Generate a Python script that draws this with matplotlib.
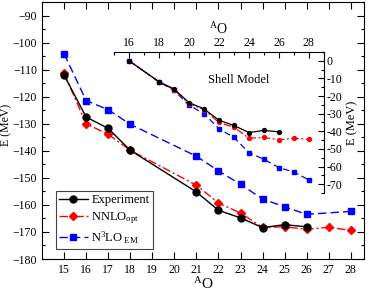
import matplotlib
matplotlib.use("Agg")
import matplotlib.pyplot as plt
from matplotlib.ticker import MultipleLocator, FuncFormatter

plt.rcParams['font.family'] = ['Liberation Serif', 'DejaVu Serif']
plt.rcParams['mathtext.fontset'] = 'custom'
plt.rcParams['mathtext.rm'] = 'Liberation Serif'
plt.rcParams['mathtext.it'] = 'Liberation Serif:italic'
plt.rcParams['axes.unicode_minus'] = True

# ---- main panel data ----
exp_A = [15, 16, 17, 18, 21, 22, 23, 24, 25, 26]
exp_E = [-112.0, -127.5, -131.7, -139.8, -155.2, -162.0, -164.8, -168.4, -167.3, -168.1]

nnlo_A = [15, 16, 17, 18, 21, 22, 23, 24, 25, 26, 27, 28]
nnlo_E = [-111.3, -130.0, -133.9, -139.8, -152.7, -159.3, -163.0, -168.3, -168.1, -169.0, -168.3, -169.4]

n3lo_A = [15, 16, 17, 18, 21, 22, 23, 24, 25, 26, 28]
n3lo_E = [-104.1, -121.4, -124.8, -130.2, -142.0, -147.4, -152.4, -157.8, -160.7, -163.5, -162.4]

# ---- inset (shell model) data ----
sm_exp_A = [16, 18, 19, 20, 21, 22, 23, 24, 25, 26]
sm_exp_E = [0.0, -11.9, -16.0, -23.7, -27.3, -33.7, -36.7, -40.7, -39.5, -40.3]

sm_nnlo_A = [16, 18, 19, 20, 21, 22, 23, 24, 25, 26, 27, 28]
sm_nnlo_E = [0.0, -12.0, -16.3, -24.3, -27.7, -35.0, -37.7, -43.9, -43.5, -44.8, -43.9, -44.6]

sm_n3lo_A = [16, 18, 19, 20, 21, 22, 23, 24, 25, 26, 27, 28]
sm_n3lo_E = [0.0, -12.0, -16.8, -25.2, -30.0, -38.5, -43.5, -52.1, -55.9, -60.6, -63.1, -67.6]

fig = plt.figure(figsize=(3.74, 2.92), dpi=100)
ax = fig.add_axes([0.1123, 0.113, 0.861, 0.880])

ax.plot(exp_A, exp_E, color='black', ls='-', lw=1.0, marker='o', ms=5, label='Experiment', zorder=5)
ax.plot(nnlo_A, nnlo_E, color='red', ls=(0, (6, 2, 1.5, 2)), lw=1.0, marker='D', ms=4.2, label=r'NNLO$_{\rm opt}$', zorder=4)
ax.plot(n3lo_A, n3lo_E, color='blue', ls=(0, (6, 3)), lw=1.0, marker='s', ms=4.5, label=r'N$^{3}$LO$_{\rm\ EM}$', zorder=3)

ax.set_xlim(14, 28.6)
ax.set_ylim(-180, -85)
ax.xaxis.set_major_locator(MultipleLocator(1))
ax.yaxis.set_major_locator(MultipleLocator(10))
ax.yaxis.set_minor_locator(MultipleLocator(5))
ax.tick_params(which='both', direction='in', top=True, right=True, labelsize=8.5)
ax.tick_params(which='major', length=5, width=0.8)
ax.tick_params(which='minor', length=2.5, width=0.8)
ax.set_xticks(list(range(15, 29)))
ax.set_xlabel(r'$^{\rm A}$O', fontsize=11, labelpad=0)
fig.text(6 / 374, 1 - 125 / 292, 'E (MeV)', rotation=90, ha='center', va='center', fontsize=8.5)

leg = ax.legend(loc='lower left', bbox_to_anchor=(0.043, 0.039), borderaxespad=0,
                fontsize=9, handlelength=2.3, handletextpad=0.3, labelspacing=0.3,
                borderpad=0.25, fancybox=False, framealpha=1)
leg.get_frame().set_edgecolor('#444444')
leg.get_frame().set_linewidth(0.8)

# ---- inset ----
axi = fig.add_axes([0.305, 0.339, 0.561, 0.483])
axi.set_facecolor('none')
axi.plot(sm_exp_A, sm_exp_E, color='black', ls='-', lw=0.9, marker='o', ms=2.8, zorder=5)
axi.plot(sm_nnlo_A, sm_nnlo_E, color='red', ls=(0, (6, 2, 1.5, 2)), lw=0.9, marker='o', ms=2.8, zorder=4)
axi.plot(sm_n3lo_A, sm_n3lo_E, color='blue', ls=(0, (5, 3)), lw=0.9, marker='s', ms=2.5, zorder=3)
axi.set_xlim(15, 29)
axi.set_ylim(-75, 5)
axi.spines['left'].set_visible(False)
axi.spines['bottom'].set_visible(False)
axi.xaxis.set_ticks_position('top')
axi.xaxis.set_label_position('top')
axi.yaxis.set_ticks_position('right')
axi.yaxis.set_label_position('right')
axi.xaxis.set_major_locator(MultipleLocator(2))
axi.xaxis.set_minor_locator(MultipleLocator(1))
axi.set_xticks(list(range(16, 29, 2)))
axi.yaxis.set_major_locator(MultipleLocator(10))
axi.yaxis.set_minor_locator(MultipleLocator(5))
axi.set_yticks(list(range(-70, 1, 10)))
axi.yaxis.set_major_formatter(FuncFormatter(lambda v, p: '%d' % v))
axi.tick_params(which='both', direction='in', labelsize=8.5, pad=2)
axi.tick_params(which='major', length=4, width=0.8)
axi.tick_params(which='minor', length=2, width=0.8)
axi.set_xlabel(r'$^{\rm A}$O', fontsize=10, labelpad=2)
axi.set_ylabel('E (MeV)', fontsize=9, labelpad=3)
axi.text(0.448, 0.80, 'Shell Model', transform=axi.transAxes, fontsize=9, va='center')

fig.savefig('out.png', dpi=100)
